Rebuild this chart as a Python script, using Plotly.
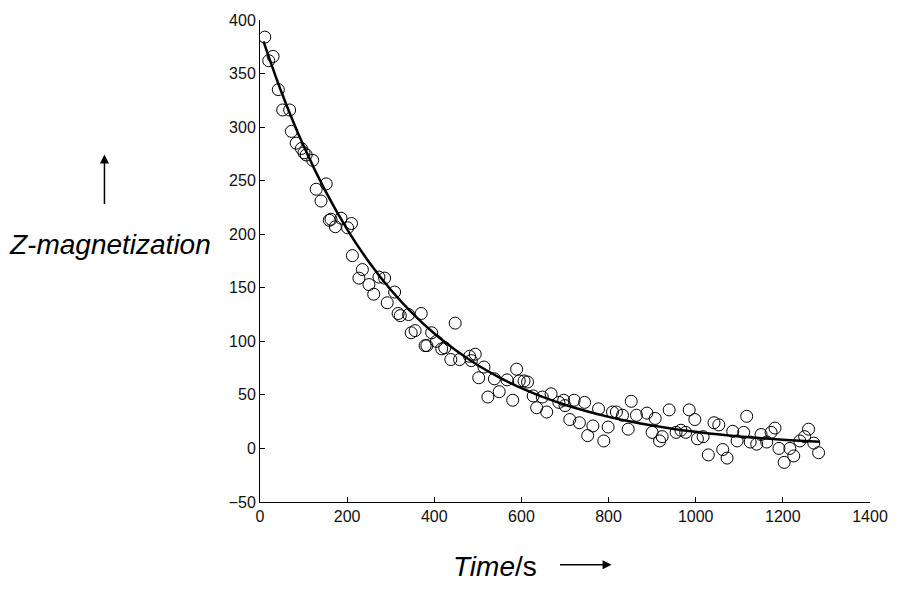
import plotly.graph_objects as go

# Measured points (time in s, Z-magnetization)
time_s = [11, 20, 30, 42, 52, 68, 72, 83, 95, 101, 106, 121, 129, 140, 152, 159, 163, 173,
          186, 201, 210, 212, 227, 235, 250, 261, 273, 286, 292, 309, 317, 322, 341, 347,
          356, 370, 379, 383, 394, 405, 417, 424, 438, 448, 458, 481, 485, 494, 502, 514,
          523, 538, 549, 567, 580, 589, 595, 606, 614, 627, 635, 648, 658, 668, 686, 697,
          700, 711, 721, 733, 745, 752, 764, 777, 789, 799, 809, 818, 832, 845, 852, 864,
          888, 900, 907, 917, 923, 939, 955, 966, 977, 985, 998, 1004, 1017, 1029, 1042,
          1053, 1062, 1072, 1085, 1095, 1110, 1117, 1125, 1140, 1150, 1163, 1173, 1182,
          1191, 1203, 1216, 1225, 1239, 1250, 1259, 1271, 1282]
z_mag = [384, 362, 366, 335, 316, 316, 296, 285, 280, 276, 274, 269, 242, 231, 247, 213, 214, 207,
         215, 206, 210, 180, 159, 167, 153, 144, 160, 159, 136, 146, 126, 124, 125, 108,
         110, 126, 96, 96, 108, 100, 93, 94, 83, 117, 83, 86, 82, 88, 66, 76,
         48, 65, 53, 64, 45, 74, 63, 63, 62, 49, 38, 48, 34, 51, 43, 45,
         40, 27, 45, 24, 43, 12, 21, 37, 7, 20, 34, 34, 31, 18, 44, 31,
         33, 15, 28, 7, 11, 36, 15, 17, 15, 36, 27, 9, 11, -6, 24,
         22, -1, -9, 16, 7, 15, 30, 6, 4, 13, 6, 15, 19,
         0, -13, 0, -7, 7, 11, 18, 5, -4]

# Fitted curve
fit_t = [8, 50, 100, 150, 200, 250, 300, 350, 400, 450, 500, 550, 600, 650, 700,
         750, 800, 850, 900, 950, 1000, 1050, 1100, 1150, 1200, 1250, 1285]
fit_z = [380.1, 331.9, 282.5, 240.4, 204.6, 174.1, 148.2, 126.1, 107.3, 91.4, 77.7, 66.2,
         56.3, 47.9, 40.8, 34.7, 29.5, 25.1, 21.4, 18.2, 15.5, 13.2, 11.2, 9.6, 8.1, 6.9, 6.2]

x_ticks = [0, 200, 400, 600, 800, 1000, 1200, 1400]
y_ticks = [-50, 0, 50, 100, 150, 200, 250, 300, 350, 400]

fig = go.Figure()
fig.add_trace(go.Scatter(
    x=time_s, y=z_mag, mode="markers",
    marker=dict(symbol="circle-open", size=12, color="black", line=dict(width=1, color="black")),
    showlegend=False, hoverinfo="x+y"))
fig.add_trace(go.Scatter(
    x=fit_t, y=fit_z, mode="lines",
    line=dict(color="black", width=2.5, shape="spline"),
    showlegend=False))

axis_font = dict(family="Liberation Sans, Arial, sans-serif", size=16, color="#111111")
fig.update_xaxes(range=[0, 1400], tickvals=x_ticks, ticks="inside", ticklen=5,
                 tickcolor="black", showline=True, linecolor="black", linewidth=1,
                 showgrid=False, zeroline=False, tickfont=axis_font)
fig.update_yaxes(range=[-50, 400], tickvals=y_ticks, ticks="inside", ticklen=5,
                 tickcolor="black", showline=True, linecolor="black", linewidth=1,
                 showgrid=False, zeroline=False, tickfont=axis_font)

title_font = dict(family="Liberation Sans, Arial, sans-serif", size=28, color="black")
fig.add_annotation(x=-0.2460, y=0.5351, xref="paper", yref="paper",
                   text="<i>Z-magnetization</i>", showarrow=False, font=title_font,
                   xanchor="center", yanchor="middle")
fig.add_annotation(x=-0.2550, y=0.7211, xref="paper", yref="paper", text="",
                   showarrow=True, ax=0, ay=51, arrowhead=2, arrowsize=1.2,
                   arrowwidth=1.5, arrowcolor="black")
fig.add_annotation(x=0.3847, y=-0.1343, xref="paper", yref="paper",
                   text="<i>Time</i>/s", showarrow=False, font=title_font,
                   xanchor="center", yanchor="middle")
fig.add_annotation(x=0.5763, y=-0.1302, xref="paper", yref="paper", text="",
                   showarrow=True, ax=-53, ay=0, arrowhead=2, arrowsize=1.2,
                   arrowwidth=1.5, arrowcolor="black")

fig.update_layout(width=900, height=589, margin=dict(l=260, r=18, t=16, b=87),
                  plot_bgcolor="white", paper_bgcolor="white")

fig.write_html("out.html", config={"displayModeBar": False},
               post_script="document.body.style.margin='0';document.body.style.overflow='hidden';")
